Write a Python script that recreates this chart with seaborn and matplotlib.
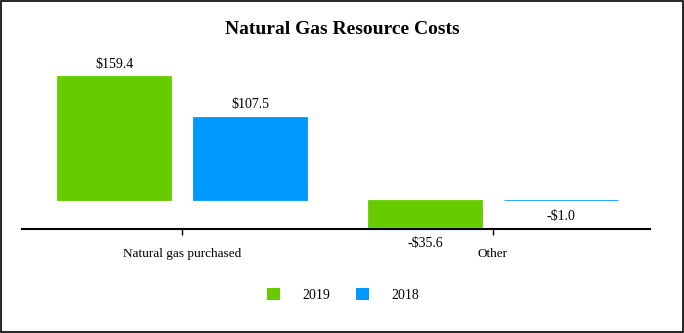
import matplotlib
matplotlib.use("Agg")
import matplotlib.pyplot as plt
import seaborn as sns
import pandas as pd
from matplotlib.patches import Patch, Rectangle

categories = ["Natural gas purchased", "Other"]
years = ["2019", "2018"]
values_2019 = [159.4, -35.6]
values_2018 = [107.5, -1.0]
colors = ["#66cc00", "#0099ff"]
title = "Natural Gas Resource Costs"

rows = []
for c, v in zip(categories, values_2019):
    rows.append({"category": c, "year": "2019", "value": v})
for c, v in zip(categories, values_2018):
    rows.append({"category": c, "year": "2018", "value": v})
df = pd.DataFrame(rows)

sns.set_style("white")
plt.rcParams["font.family"] = ["Liberation Serif", "DejaVu Serif"]
plt.rcParams["text.color"] = "black"
plt.rcParams["xtick.color"] = "black"

fig = plt.figure(figsize=(6.84, 3.33), dpi=100)
ax = fig.add_axes([22/684, 1 - 229/333, (650-22)/684, (229-45)/333])

sns.barplot(data=df, x="category", y="value", hue="year", hue_order=years,
            order=categories, palette=colors, width=0.875, gap=0.161,
            saturation=1, ax=ax, legend=False, errorbar=None)

for cont in ax.containers:
    pos_labels, neg_labels = [], []
    for b in cont:
        b.set_edgecolor(b.get_facecolor())
        b.set_linewidth(0.6)
        h = b.get_height()
        if h >= 0:
            pos_labels.append(f"${h:.1f}")
            neg_labels.append("")
        else:
            pos_labels.append("")
            neg_labels.append(f"-${abs(h):.1f}")
    ax.bar_label(cont, labels=pos_labels, padding=4, fontsize=10)
    ax.bar_label(cont, labels=neg_labels, padding=7, fontsize=10)

ax.set_ylim(-38, 200)
ax.set_xlim(-0.515, 1.505)
ax.set_xlabel("")
ax.set_ylabel("")
ax.set_yticks([])
for s in ["top", "left", "right"]:
    ax.spines[s].set_visible(False)
ax.spines["bottom"].set_color("black")
ax.spines["bottom"].set_linewidth(1.5)
ax.tick_params(axis="x", direction="out", length=4, width=1, color="black",
               labelcolor="black", labelsize=9.5, pad=10, bottom=True)

fig.text(0.5, 1 - 29/333, title, ha="center", va="center", fontsize=14,
         fontweight="bold", color="black")

handles = [Patch(facecolor=colors[0], edgecolor="none"),
           Patch(facecolor=colors[1], edgecolor="none")]
fig.legend(handles, years, loc="center", bbox_to_anchor=(343/684, 1 - 295/333),
           ncol=2, frameon=False, fontsize=10, handlelength=1, handleheight=1,
           handletextpad=1.6, columnspacing=1.8)

fig.patches.append(Rectangle((0.001, 0.002), 0.997, 0.996, transform=fig.transFigure,
                             fill=False, edgecolor="black", linewidth=1.2))

fig.savefig("out.png", dpi=100)
